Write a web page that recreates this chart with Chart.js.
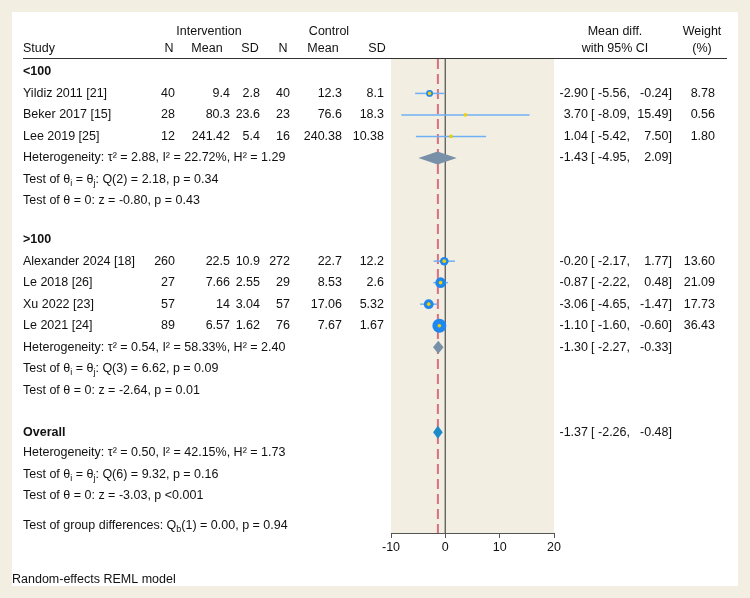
<!DOCTYPE html>
<html>
<head>
<meta charset="utf-8">
<script src="https://cdn.jsdelivr.net/npm/chart.js@4.4.1/dist/chart.umd.min.js"></script>
<style>
  html, body { margin: 0; padding: 0; background: #f2efe2; }
  #wrap { width: 750px; height: 598px; }
</style>
</head>
<body>
<div id="wrap"><canvas id="forest" width="750" height="598"></canvas></div>
<script>
// study level data
var studies = ['Yildiz 2011 [21]', 'Beker 2017 [15]', 'Lee 2019 [25]', 'Alexander 2024 [18]', 'Le 2018 [26]', 'Xu 2022 [23]', 'Le 2021 [24]'];
var intN = ['40', '28', '12', '260', '27', '57', '89'];
var intMean = ['9.4', '80.3', '241.42', '22.5', '7.66', '14', '6.57'];
var intSD = ['2.8', '23.6', '5.4', '10.9', '2.55', '3.04', '1.62'];
var ctlN = ['40', '23', '16', '272', '29', '57', '76'];
var ctlMean = ['12.3', '76.6', '240.38', '22.7', '8.53', '17.06', '7.67'];
var ctlSD = ['8.1', '18.3', '10.38', '12.2', '2.6', '5.32', '1.67'];
var est = [-2.90, 3.70, 1.04, -0.20, -0.87, -3.06, -1.10];
var lo = [-5.56, -8.09, -5.42, -2.17, -2.22, -4.65, -1.60];
var hi = [-0.24, 15.49, 7.50, 1.77, 0.48, -1.47, -0.60];
var weight = [8.78, 0.56, 1.80, 13.60, 21.09, 17.73, 36.43];
var studyRow = [2, 3, 4, 9.8, 10.8, 11.8, 12.8];

// subgroup + overall summaries
var groupLabel = ['<100', '>100', 'Overall'];
var groupLabelRow = [1, 8.8, 17.75];
var sumEst = [-1.43, -1.30, -1.37];
var sumLo = [-4.95, -2.27, -2.26];
var sumHi = [2.09, -0.33, -0.48];
var sumRow = [5, 13.8, 17.75];
var hetTau = ['2.88', '0.54', '0.50'];
var hetI = ['22.72', '58.33', '42.15'];
var hetH = ['1.29', '2.40', '1.73'];
var hetRow = [5, 13.8, 18.7];
var qDf = ['2', '3', '6'];
var qVal = ['2.18', '6.62', '9.32'];
var qP = ['0.34', '0.09', '0.16'];
var zVal = ['-0.80', '-2.64', '-3.03'];
var zP = ['= 0.43', '= 0.01', '<0.001'];
var xTicks = [-10, 0, 10, 20];

var FAM = '"Liberation Sans", Arial, Helvetica, sans-serif';
var FS = 12.5;

var datasets = [];
for (let i = 0; i < studies.length; i++) {
  datasets.push({
    data: [{x: lo[i], y: studyRow[i]}, {x: hi[i], y: studyRow[i]}],
    showLine: true,
    borderColor: '#6fb0f4',
    borderWidth: 1.5,
    pointRadius: 0,
    order: 5
  });
}
datasets.push({
  data: est.map((e, i) => ({x: e, y: studyRow[i]})),
  backgroundColor: '#1f87f0',
  borderWidth: 0,
  pointRadius: weight.map(w => 1.16 * Math.sqrt(w)),
  order: 2
});
datasets.push({
  data: est.map((e, i) => ({x: e, y: studyRow[i]})),
  backgroundColor: '#f2cf00',
  borderWidth: 0,
  pointRadius: 1.8,
  order: 1
});
// reference lines: no effect, overall effect
datasets.push({
  data: [{x: 0, y: 0.4}, {x: 0, y: 22.44}],
  showLine: true, borderColor: '#666', borderWidth: 1, pointRadius: 0, order: 7
});
datasets.push({
  data: [{x: sumEst[2], y: 0.4}, {x: sumEst[2], y: 22.44}],
  showLine: true, borderColor: '#dc6f7f', borderWidth: 2, borderDash: [10, 5], pointRadius: 0, order: 6
});

function rich(ctx, parts, x, y) {
  let cx = x;
  parts.forEach(function(p) {
    let sub = p[1] === 'sub';
    ctx.font = (sub ? '9px ' : FS + 'px ') + FAM;
    ctx.fillText(p[0], cx, y + (sub ? 4 : 0));
    cx += ctx.measureText(p[0]).width;
  });
}

function txt(ctx, s, x, y, align, bold) {
  ctx.font = (bold ? 'bold ' : '') + FS + 'px ' + FAM;
  ctx.textAlign = align;
  ctx.fillText(s, x, y);
}

var forestPlugin = {
  id: 'forest',
  beforeDraw: (chart) => {
    const c = chart.ctx, a = chart.chartArea;
    c.save();
    c.fillStyle = '#f2efe2';
    c.fillRect(0, 0, chart.width, chart.height);
    c.fillStyle = '#ffffff';
    c.fillRect(12, 12, 726, 574);
    c.fillStyle = '#f2efe2';
    c.fillRect(a.left, a.top, a.right - a.left, a.bottom - a.top);
    c.restore();
  },
  afterDatasetsDraw: (chart) => {
    const c = chart.ctx, xs = chart.scales.x, ys = chart.scales.y;
    c.save();
    for (let g = 0; g < sumEst.length; g++) {
      const y = ys.getPixelForValue(sumRow[g]);
      c.beginPath();
      c.moveTo(xs.getPixelForValue(sumLo[g]), y);
      c.lineTo(xs.getPixelForValue(sumEst[g]), y - 6.5);
      c.lineTo(xs.getPixelForValue(sumHi[g]), y);
      c.lineTo(xs.getPixelForValue(sumEst[g]), y + 6.5);
      c.closePath();
      c.fillStyle = g === 2 ? '#1b8cc9' : '#7890a8';
      c.fill();
    }
    c.restore();
  },
  afterDraw: (chart) => {
    const c = chart.ctx, ys = chart.scales.y;
    c.save();
    c.fillStyle = '#111';
    c.textBaseline = 'middle';
    // headers
    txt(c, 'Intervention', 209, 32, 'center');
    txt(c, 'Control', 329, 32, 'center');
    txt(c, 'Mean diff.', 615, 32, 'center');
    txt(c, 'Weight', 702, 32, 'center');
    txt(c, 'Study', 23, 49, 'left');
    txt(c, 'N', 169, 49, 'center');
    txt(c, 'Mean', 207, 49, 'center');
    txt(c, 'SD', 250, 49, 'center');
    txt(c, 'N', 283, 49, 'center');
    txt(c, 'Mean', 323, 49, 'center');
    txt(c, 'SD', 377, 49, 'center');
    txt(c, 'with 95% CI', 615, 49, 'center');
    txt(c, '(%)', 702, 49, 'center');
    c.strokeStyle = '#333';
    c.lineWidth = 1;
    c.beginPath();
    c.moveTo(23, 58.5);
    c.lineTo(727, 58.5);
    c.stroke();

    // study rows
    for (let i = 0; i < studies.length; i++) {
      const y = ys.getPixelForValue(studyRow[i]);
      txt(c, studies[i], 23, y, 'left');
      txt(c, intN[i], 175, y, 'right');
      txt(c, intMean[i], 230, y, 'right');
      txt(c, intSD[i], 260, y, 'right');
      txt(c, ctlN[i], 290, y, 'right');
      txt(c, ctlMean[i], 342, y, 'right');
      txt(c, ctlSD[i], 384, y, 'right');
      txt(c, est[i].toFixed(2), 588, y, 'right');
      txt(c, '[', 591, y, 'left');
      txt(c, lo[i].toFixed(2) + ',', 630, y, 'right');
      txt(c, hi[i].toFixed(2) + ']', 672, y, 'right');
      txt(c, weight[i].toFixed(2), 715, y, 'right');
    }

    // summary rows
    for (let g = 0; g < 3; g++) {
      txt(c, groupLabel[g], 23, ys.getPixelForValue(groupLabelRow[g]), 'left', true);
      const sy = ys.getPixelForValue(sumRow[g]);
      txt(c, sumEst[g].toFixed(2), 588, sy, 'right');
      txt(c, '[', 591, sy, 'left');
      txt(c, sumLo[g].toFixed(2) + ',', 630, sy, 'right');
      txt(c, sumHi[g].toFixed(2) + ']', 672, sy, 'right');

      c.textAlign = 'left';
      const hy = ys.getPixelForValue(hetRow[g]);
      rich(c, [['Heterogeneity: \u03c4\u00b2 = ' + hetTau[g] + ', I\u00b2 = ' + hetI[g] + '%, H\u00b2 = ' + hetH[g], 'n']], 23, hy);
      const qy = ys.getPixelForValue(hetRow[g] + 1);
      rich(c, [['Test of \u03b8', 'n'], ['i', 'sub'], [' = \u03b8', 'n'], ['j', 'sub'],
               [': Q(' + qDf[g] + ') = ' + qVal[g] + ', p = ' + qP[g], 'n']], 23, qy);
      const zy = ys.getPixelForValue(hetRow[g] + 2);
      rich(c, [['Test of \u03b8 = 0: z = ' + zVal[g] + ', p ' + zP[g], 'n']], 23, zy);
    }
    c.textAlign = 'left';
    rich(c, [['Test of group differences: Q', 'n'], ['b', 'sub'], ['(1) = 0.00, p = 0.94', 'n']], 23, ys.getPixelForValue(22.1));
    txt(c, 'Random-effects REML model', 12, 580, 'left');
    c.restore();
  }
};

var forestChart = new Chart(document.getElementById('forest').getContext('2d'), {
  type: 'scatter',
  data: { datasets: datasets },
  plugins: [forestPlugin],
  options: {
    responsive: false,
    animation: false,
    events: [],
    layout: { padding: { left: 391, right: 196, top: 59, bottom: 35 } },
    plugins: { legend: { display: false }, tooltip: { enabled: false } },
    scales: {
      x: {
        type: 'linear',
        min: -10,
        max: 20,
        afterBuildTicks: (s) => { s.ticks = xTicks.map(v => ({ value: v })); },
        afterFit: (s) => { s.height = 30; },
        ticks: { color: '#111', padding: 2, font: { family: FAM, size: FS } },
        grid: { drawOnChartArea: false, drawTicks: true, tickLength: 5, color: '#555' },
        border: { color: '#555', width: 1 }
      },
      y: {
        type: 'linear',
        reverse: true,
        min: 0.4,
        max: 22.44,
        display: false
      }
    }
  }
});
</script>
</body>
</html>
